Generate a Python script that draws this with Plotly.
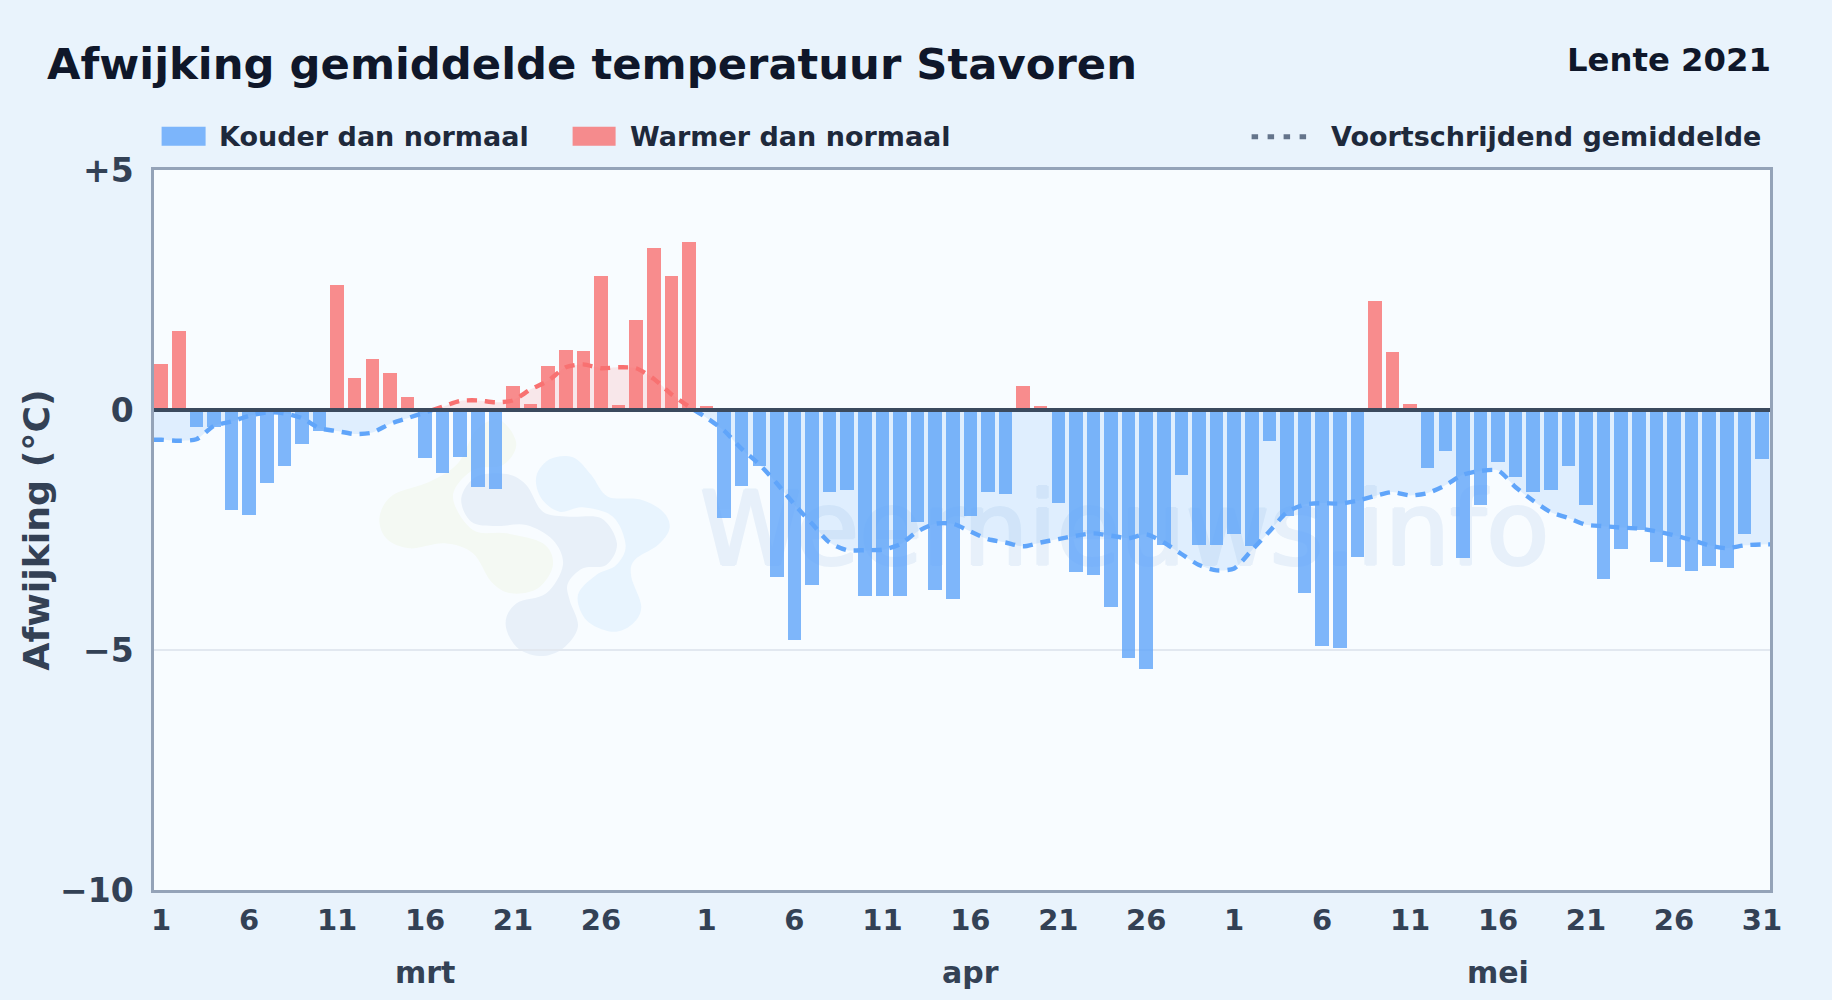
import plotly.graph_objects as go

# ---------- data ----------
days_march = list(range(1, 32))
days_april = list(range(1, 31))
days_may = list(range(1, 32))

deviation_march = [0.96, 1.65, -0.35, -0.35, -2.09, -2.19, -1.53, -1.17, -0.70, -0.44,
                   2.60, 0.67, 1.07, 0.78, 0.28, -1.00, -1.32, -0.97, -1.60, -1.65,
                   0.49, 0.13, 0.92, 1.24, 1.22, 2.80, 0.11, 1.88, 3.38, 2.80, 3.50]
deviation_april = [0.09, -2.25, -1.59, -1.17, -3.47, -4.80, -3.65, -1.71, -1.66, -3.88,
                   -3.88, -3.88, -2.34, -3.74, -3.94, -2.20, -1.71, -1.74, 0.49, 0.08,
                   -1.94, -3.38, -3.44, -4.11, -5.17, -5.40, -2.82, -1.36, -2.82, -2.82]
deviation_may = [-2.59, -2.84, -0.64, -2.20, -3.82, -4.92, -4.96, -3.07, 2.27, 1.21,
                 0.13, -1.20, -0.86, -3.09, -1.98, -1.09, -1.39, -1.70, -1.66, -1.17,
                 -1.97, -3.53, -2.90, -2.51, -3.16, -3.28, -3.36, -3.24, -3.30, -2.58, -1.03]

average_march = [-0.62, -0.64, -0.61, -0.33, -0.24, -0.12, -0.05, -0.07, -0.17, -0.38,
                 -0.44, -0.50, -0.47, -0.29, -0.17, -0.05, 0.07, 0.19, 0.20, 0.16,
                 0.20, 0.43, 0.61, 0.89, 0.95, 0.87, 0.89, 0.87, 0.65, 0.33, 0.07]
average_april = [-0.16, -0.43, -0.81, -1.13, -1.53, -1.97, -2.37, -2.76, -2.92, -2.92,
                 -2.91, -2.80, -2.53, -2.37, -2.37, -2.53, -2.69, -2.76, -2.84, -2.76,
                 -2.69, -2.62, -2.57, -2.62, -2.67, -2.59, -2.76, -3.00, -3.23, -3.34]
average_may = [-3.30, -2.92, -2.53, -2.13, -1.97, -1.94, -1.95, -1.89, -1.79, -1.71,
               -1.78, -1.73, -1.57, -1.35, -1.27, -1.26, -1.61, -1.89, -2.13, -2.25,
               -2.39, -2.42, -2.45, -2.47, -2.53, -2.61, -2.71, -2.82, -2.88, -2.82, -2.80]

month_names = ["mrt", "apr", "mei"]
y_tick_values = [5, 0, -5, -10]
y_tick_labels = ["+5", "0", "−5", "−10"]
tick_days = [1, 6, 11, 16, 21, 26]

# ---------- derived ----------
deviation = deviation_march + deviation_april + deviation_may
average = average_march + average_april + average_may
index = list(range(len(deviation)))
month_lengths = [len(days_march), len(days_april), len(days_may)]

tick_vals, tick_text = [], []
offset = 0
for n in month_lengths:
    for d in tick_days + ([31] if n == 31 and offset > 0 else []):
        tick_vals.append(offset + d - 1)
        tick_text.append(str(d))
    offset += n

BLUE = "#60a5fa"
RED = "#f87171"
TEXT = "#334155"
DARK = "#0f172a"
LEGEND_TEXT = "#1e293b"
FONT = "DejaVu Sans"

W, H = 1832, 1000
L, R, T, B = 154.4, 1770.4, 170.2, 889.8
X_MIN, X_MAX = -0.41, 91.46
WATERMARK = "#e7f0fa"


def px_x(v):
    return (v - L) / (R - L)


def px_y(v):
    return (B - v) / (B - T)


# split the average at the zero crossings so each part gets its colour
line_x = [X_MIN] + index + [X_MAX]
line_y = [average[0]] + average + [average[-1]]
segments = []
cur_x, cur_y = [line_x[0]], [line_y[0]]
for i in range(1, len(line_x)):
    y0, y1 = line_y[i - 1], line_y[i]
    if y0 * y1 < 0:
        xc = line_x[i - 1] + (line_x[i] - line_x[i - 1]) * (-y0) / (y1 - y0)
        cur_x.append(xc)
        cur_y.append(0)
        segments.append((cur_x, cur_y, y0 > 0))
        cur_x, cur_y = [xc], [0]
    cur_x.append(line_x[i])
    cur_y.append(y1)
segments.append((cur_x, cur_y, cur_y[-1] > 0))

fig = go.Figure()
fig.add_trace(go.Bar(
    x=index, y=deviation, width=0.77,
    marker=dict(color=[RED if v > 0 else BLUE for v in deviation], line_width=0),
    opacity=0.8, showlegend=False,
))
for xs, ys, warm in segments:
    fig.add_trace(go.Scatter(
        x=xs, y=ys, mode="lines", showlegend=False, fill="tozeroy",
        fillcolor="rgba(248,113,113,0.15)" if warm else "rgba(96,165,250,0.16)",
        line=dict(color=RED if warm else BLUE, width=4.4, dash="10px,8px",
                  shape="spline", smoothing=0.7),
    ))


def smooth_path(points):
    """Closed smooth outline through the given pixel points (crop coordinates)."""
    pts = [(330 + x / 3, 400 + y / 3) for x, y in points]
    n = len(pts)
    d = f"M{px_x(pts[0][0]):.5f},{px_y(pts[0][1]):.5f}"
    for i in range(n):
        p0, p1, p2, p3 = pts[i - 1], pts[i], pts[(i + 1) % n], pts[(i + 2) % n]
        c1 = (p1[0] + (p2[0] - p0[0]) / 6, p1[1] + (p2[1] - p0[1]) / 6)
        c2 = (p2[0] - (p3[0] - p1[0]) / 6, p2[1] - (p3[1] - p1[1]) / 6)
        d += (f"C{px_x(c1[0]):.5f},{px_y(c1[1]):.5f} {px_x(c2[0]):.5f},{px_y(c2[1]):.5f} "
              f"{px_x(p2[0]):.5f},{px_y(p2[1]):.5f}")
    return d + "Z"


logo_green = [(150, 350), (190, 285), (300, 245), (385, 190), (440, 90), (510, 60), (560, 130), (520, 195),
              (430, 210), (370, 290), (430, 390), (530, 400), (640, 430), (670, 495), (625, 565),
              (545, 580), (485, 545), (430, 460), (345, 430), (240, 445), (170, 415)]
logo_navy = [(395, 295), (440, 230), (530, 222), (590, 255), (640, 335), (720, 350), (815, 355),
             (862, 430), (830, 495), (760, 505), (715, 550), (720, 600), (745, 680), (700, 745),
             (630, 768), (560, 740), (528, 670), (560, 610), (650, 580), (700, 495), (670, 420),
             (590, 375), (500, 378), (425, 365)]
logo_sky = [(620, 230), (660, 178), (730, 172), (785, 225), (835, 290), (930, 298), (1000, 335),
            (1020, 385), (985, 435), (915, 480), (905, 530), (935, 620), (905, 675), (845, 695),
            (770, 660), (745, 585), (800, 525), (860, 495), (888, 435), (850, 350), (760, 322),
            (690, 335), (635, 295)]

shapes = [
    dict(type="path", path=smooth_path(logo_green), xref="paper", yref="paper", layer="below",
         fillcolor="#f4f9f3", line_width=0),
    dict(type="path", path=smooth_path(logo_navy), xref="paper", yref="paper", layer="below",
         fillcolor="#e8f0f9", line_width=0),
    dict(type="path", path=smooth_path(logo_sky), xref="paper", yref="paper", layer="below",
         fillcolor="#e8f4fe", line_width=0),
    # watermark
    dict(type="rect", xref="paper", yref="paper", layer="below",
         x0=px_x(665), x1=px_x(1585), y0=px_y(585), y1=px_y(460), line_width=0,
         fillcolor="rgba(0,0,0,0)",
         label=dict(text="Weernieuws.info", textposition="middle center",
                    font=dict(family=FONT, size=103, color=WATERMARK,
                              shadow=f"1.5px 0 0 {WATERMARK}, -1.5px 0 0 {WATERMARK}, "
                                     f"0 1px 0 {WATERMARK}, 0 -1px 0 {WATERMARK}"))),
    # zero line
    dict(type="line", xref="paper", yref="y", x0=0, x1=1, y0=0, y1=0, layer="above",
         line=dict(color="#3b4a5e", width=3.8)),
    # legend swatches
    dict(type="rect", xref="paper", yref="paper", x0=px_x(162), x1=px_x(206), y0=px_y(146), y1=px_y(127),
         fillcolor=BLUE, opacity=0.8, line_width=0),
    dict(type="rect", xref="paper", yref="paper", x0=px_x(573), x1=px_x(616), y0=px_y(146), y1=px_y(127),
         fillcolor=RED, opacity=0.8, line_width=0),
    dict(type="line", xref="paper", yref="paper", x0=px_x(1252), x1=px_x(1307), y0=px_y(137), y1=px_y(137),
         line=dict(color="#64748b", width=5, dash="6.5px,9.5px")),
]


def note(text, x, y, size, color, xanchor="left", xref="paper", yref="paper"):
    return dict(text=text, x=x, y=y, xref=xref, yref=yref, xanchor=xanchor, yanchor="middle",
                showarrow=False, font=dict(family=FONT, size=size, color=color, weight="bold"))


annotations = [
    note("Afwijking gemiddelde temperatuur Stavoren", px_x(45), px_y(64), 43.3, DARK),
    note("Lente 2021", px_x(1773), px_y(60), 32.3, DARK, xanchor="right"),
    note("Kouder dan normaal", px_x(217.5), px_y(137), 27, LEGEND_TEXT),
    note("Warmer dan normaal", px_x(628), px_y(137), 27, LEGEND_TEXT),
    note("Voortschrijdend gemiddelde", px_x(1763), px_y(137), 27, LEGEND_TEXT, xanchor="right"),
]
offset = 0
for name in month_names:
    annotations.append(note(name, offset + 15, px_y(972), 30, TEXT, xanchor="center", xref="x"))
    offset += month_lengths[month_names.index(name)]

fig.update_layout(
    width=W, height=H,
    margin=dict(l=L, r=W - R, t=T, b=H - B, pad=0, autoexpand=False),
    paper_bgcolor="#e9f3fc",
    plot_bgcolor="#f8fcff",
    font=dict(family=FONT, color=TEXT),
    bargap=0, barmode="overlay",
    shapes=shapes, annotations=annotations, showlegend=False,
    xaxis=dict(range=[X_MIN, X_MAX], tickmode="array", tickvals=tick_vals, ticktext=tick_text,
               showgrid=False, zeroline=False, showline=True, linecolor="#94a3b8", linewidth=2.5, mirror=True,
               ticks="outside", ticklen=2, tickcolor="rgba(0,0,0,0)", tickangle=0,
               tickfont=dict(family=FONT, size=29, color=TEXT, weight="bold")),
    yaxis=dict(range=[-10, 5], tickmode="array", tickvals=y_tick_values, ticktext=y_tick_labels,
               showgrid=True, gridcolor="#e2e8f0", gridwidth=2, zeroline=False,
               showline=True, linecolor="#94a3b8", linewidth=2.5, mirror=True,
               ticks="outside", ticklen=11, tickcolor="rgba(0,0,0,0)",
               tickfont=dict(family=FONT, size=33, color=TEXT, weight="bold"),
               title=dict(text="Afwijking (°C)", standoff=0,
                          font=dict(family=FONT, size=36.3, color=TEXT, weight="bold"))),
)

fig.write_html("out.html", config=dict(displayModeBar=False),
               post_script="document.body.style.margin='0';document.body.style.background='#e9f3fc';")
